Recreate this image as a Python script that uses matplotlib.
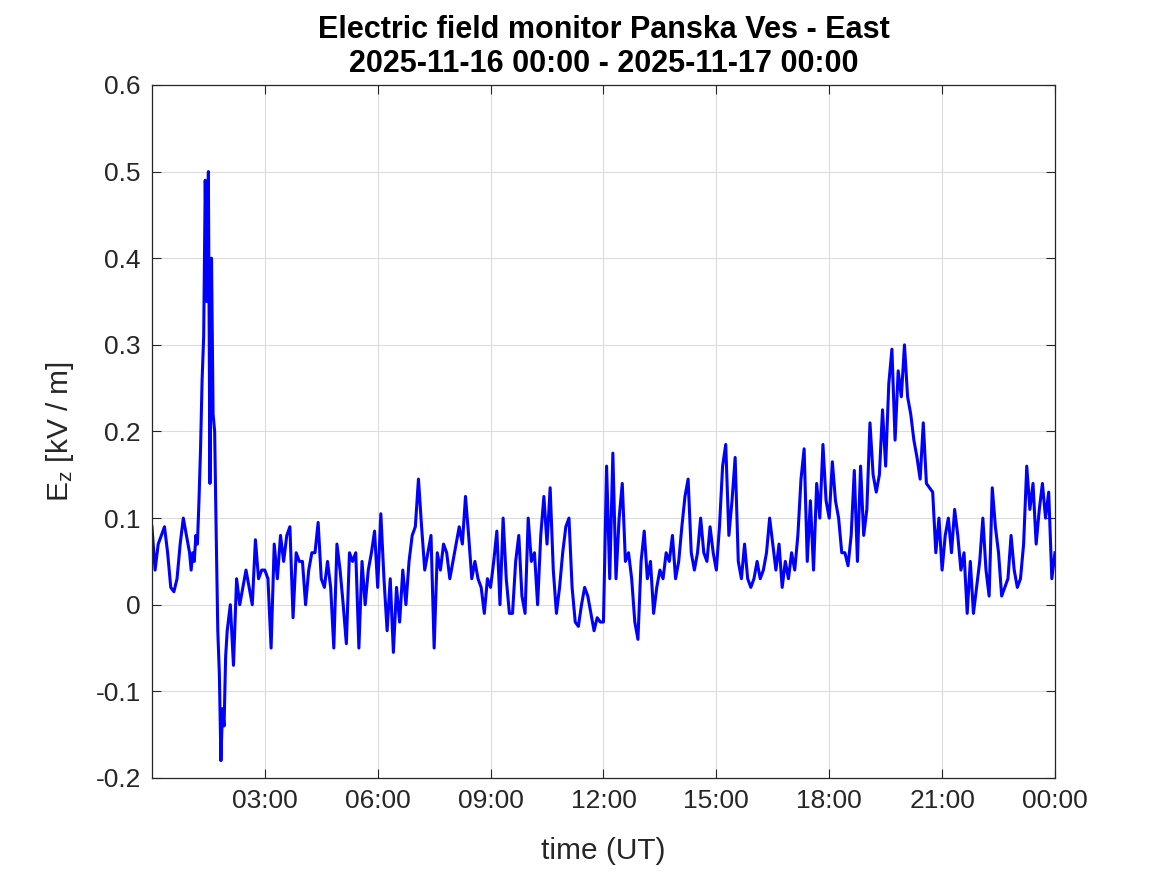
import numpy as np
import matplotlib.pyplot as plt

plt.rcParams['font.family'] = ['Liberation Sans', 'DejaVu Sans']
plt.rcParams['mathtext.fontset'] = 'custom'
plt.rcParams['mathtext.rm'] = 'Liberation Sans'

# Ez [kV/m], one list per hour (UT), evenly spaced inside the hour
h00 = [0.09, 0.04, 0.07, 0.08, 0.09, 0.06, 0.02, 0.015, 0.03, 0.07, 0.10, 0.08]
h01 = [0.06, 0.04, 0.06, 0.05, 0.08, 0.07, 0.12, 0.18, 0.26, 0.31, 0.49, 0.35,
       0.50, 0.14, 0.40, 0.22, 0.20, 0.08, -0.03, -0.08, -0.18, -0.12, -0.14, -0.06]
h02 = [-0.03, 0.0, -0.07, 0.03, 0.0, 0.02, 0.04, 0.02, 0.0, 0.075, 0.03, 0.04]
h03 = [0.04, 0.03, -0.05, 0.07, 0.03, 0.08, 0.05, 0.08, 0.09, -0.015, 0.06, 0.05]
h04 = [0.05, 0.0, 0.04, 0.06, 0.06, 0.095, 0.03, 0.02, 0.05, 0.02, -0.05, 0.07]
h05 = [0.04, 0.0, -0.045, 0.06, 0.05, 0.06, -0.05, 0.05, 0.0, 0.04, 0.06, 0.085]
h06 = [0.02, 0.105, 0.03, -0.03, 0.03, -0.055, 0.02, -0.02, 0.04, 0.0, 0.05, 0.08]
h07 = [0.09, 0.145, 0.09, 0.04, 0.06, 0.08, -0.05, 0.06, 0.04, 0.07, 0.06, 0.03]
h08 = [0.05, 0.07, 0.09, 0.07, 0.125, 0.08, 0.03, 0.05, 0.03, 0.02, -0.01, 0.03]
h09 = [0.02, 0.05, 0.085, 0.0, 0.10, 0.03, -0.01, -0.01, 0.05, 0.08, 0.01, -0.01]
h10 = [0.10, 0.05, 0.06, 0.0, 0.08, 0.125, 0.07, 0.135, 0.04, -0.01, 0.02, 0.06]
h11 = [0.09, 0.10, 0.02, -0.02, -0.025, 0.0, 0.02, 0.01, -0.01, -0.03, -0.015, -0.02]
h12 = [-0.02, 0.16, 0.03, 0.175, 0.03, 0.10, 0.14, 0.05, 0.06, 0.03, -0.02, -0.04]
h13 = [0.05, 0.085, 0.03, 0.05, -0.01, 0.02, 0.04, 0.03, 0.06, 0.05, 0.08, 0.03]
h14 = [0.05, 0.09, 0.125, 0.145, 0.06, 0.04, 0.06, 0.10, 0.06, 0.05, 0.09, 0.06]
h15 = [0.04, 0.09, 0.16, 0.185, 0.08, 0.12, 0.17, 0.05, 0.03, 0.07, 0.03, 0.02]
h16 = [0.03, 0.05, 0.03, 0.04, 0.06, 0.10, 0.07, 0.04, 0.07, 0.02, 0.05, 0.03]
h17 = [0.06, 0.04, 0.08, 0.145, 0.18, 0.05, 0.12, 0.04, 0.14, 0.10, 0.185, 0.12]
h18 = [0.10, 0.165, 0.12, 0.10, 0.06, 0.06, 0.045, 0.08, 0.155, 0.05, 0.16, 0.08]
h19 = [0.11, 0.21, 0.15, 0.13, 0.15, 0.225, 0.16, 0.255, 0.295, 0.19, 0.27, 0.24]
h20 = [0.30, 0.24, 0.22, 0.19, 0.17, 0.145, 0.21, 0.14, 0.135, 0.13, 0.06, 0.10]
h21 = [0.04, 0.08, 0.10, 0.06, 0.11, 0.08, 0.04, 0.06, -0.01, 0.05, -0.01, 0.02]
h22 = [0.05, 0.10, 0.04, 0.01, 0.135, 0.09, 0.06, 0.01, 0.02, 0.03, 0.08, 0.04]
h23 = [0.02, 0.03, 0.07, 0.16, 0.11, 0.14, 0.07, 0.11, 0.14, 0.10, 0.13, 0.03]
ez_end = 0.06

hours = [h00, h01, h02, h03, h04, h05, h06, h07, h08, h09, h10, h11,
         h12, h13, h14, h15, h16, h17, h18, h19, h20, h21, h22, h23]

xtick_hours = [3, 6, 9, 12, 15, 18, 21, 24]
xtick_labels = ['03:00', '06:00', '09:00', '12:00', '15:00', '18:00', '21:00', '00:00']
ytick_vals = [-0.2, -0.1, 0, 0.1, 0.2, 0.3, 0.4, 0.5, 0.6]
ytick_labels = ['-0.2', '-0.1', '0', '0.1', '0.2', '0.3', '0.4', '0.5', '0.6']

t = []
ez = []
for h, vals in enumerate(hours):
    n = len(vals)
    t.extend(h + np.arange(n) / n)
    ez.extend(vals)
t.append(24.0)
ez.append(ez_end)

fig = plt.figure(figsize=(11.67, 8.75), dpi=100)
ax = fig.add_axes([0.1302, 0.1109, 0.7738, 0.792])

ax.plot(t, ez, color='#0000ff', linewidth=2.2)

ax.set_xlim(0, 24)
ax.set_ylim(-0.2, 0.6)
ax.set_xticks(xtick_hours)
ax.set_xticklabels(xtick_labels)
ax.set_yticks(ytick_vals)
ax.set_yticklabels(ytick_labels)

ax.grid(True, color='#dcdcdc', linewidth=0.8)
ax.set_axisbelow(True)
ax.tick_params(direction='in', length=6.5, width=0.8, colors='#262626',
               labelsize=19, top=True, right=True, pad=8)
for s in ax.spines.values():
    s.set_color('#262626')
    s.set_linewidth(0.9)

ax.set_xlabel('time (UT)', fontsize=21.5, color='#262626', labelpad=17)
ax.set_ylabel(r'$\mathregular{E_z}$ [kV / m]', fontsize=21.5, color='#262626', labelpad=14)
ax.set_title('Electric field monitor Panska Ves - East\n2025-11-16 00:00 - 2025-11-17 00:00',
             fontsize=22, fontweight='bold', color='black', pad=9, linespacing=1.2)

fig.savefig('out.png', dpi=100)
